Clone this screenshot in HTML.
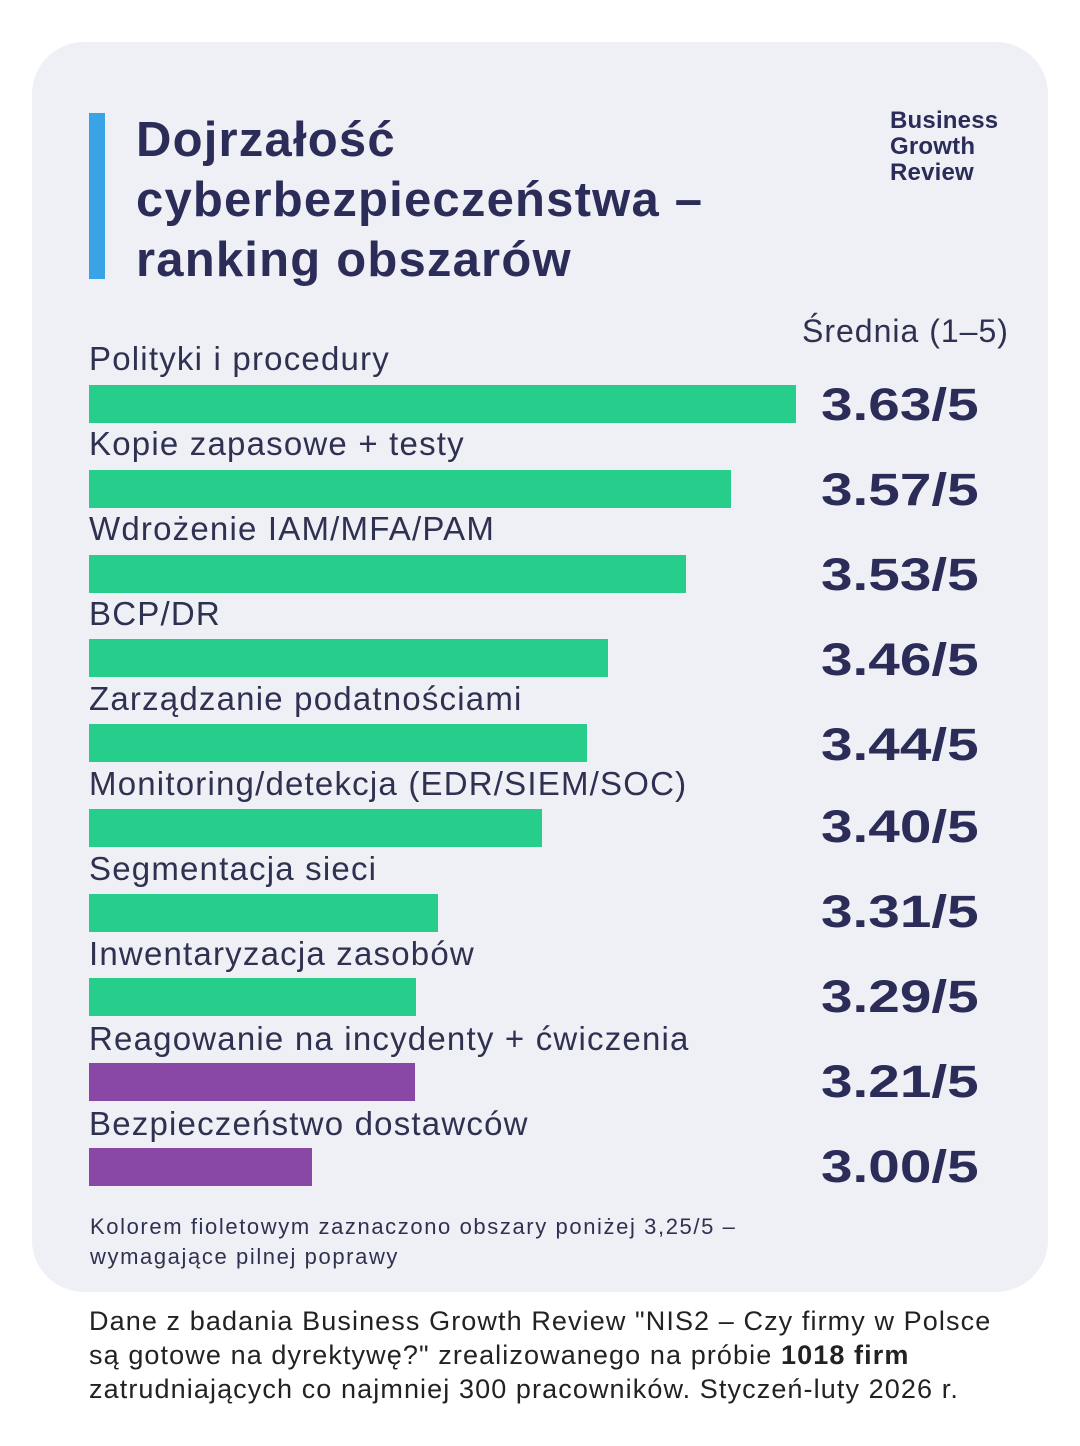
<!DOCTYPE html>
<html><head><meta charset="utf-8"><style>
*{margin:0;padding:0;box-sizing:border-box}
body{width:1080px;height:1446px;background:#fff;font-family:"Liberation Sans",sans-serif;position:relative;overflow:hidden;color:#2b2d58}
.card{position:absolute;left:32px;top:42px;width:1016px;height:1250px;background:#eff0f6;border-radius:52px}
.ab{position:absolute;white-space:nowrap}
.vb{position:absolute;left:89px;top:113px;width:16px;height:166px;background:#3aa3e6}
.title{left:136px;top:110px;font-size:49px;font-weight:bold;line-height:60px;color:#2b2d58;letter-spacing:1.2px}
.logo{left:890px;top:108px;font-size:24px;font-weight:bold;line-height:26px;color:#2b2d58;letter-spacing:0.2px}
.lab{position:absolute;left:89px;font-size:33px;color:#2f3150;white-space:nowrap;letter-spacing:1.2px}
.bar{position:absolute;left:89px;height:38px}
.val{position:absolute;left:821px;font-size:45px;font-weight:bold;color:#2b2d58;transform:scaleX(1.26);transform-origin:0 0;white-space:nowrap}
.g{background:#27cd8a}.p{background:#8a48a6}
</style></head><body>
<div class="card"></div>
<div class="vb"></div>
<div class="ab title">Dojrzałość<br>cyberbezpieczeństwa –<br>ranking obszarów</div>
<div class="ab logo">Business<br>Growth<br>Review</div>
<div class="ab" style="left:802px;top:313px;font-size:32px;color:#2f3150;letter-spacing:1px">Średnia (1–5)</div>

<div class="lab" style="top:340px">Polityki i procedury</div>
<div class="bar g" style="top:385px;width:707px"></div>
<div class="val" style="top:379px">3.63/5</div>

<div class="lab" style="top:425px">Kopie zapasowe + testy</div>
<div class="bar g" style="top:470px;width:642px"></div>
<div class="val" style="top:464px">3.57/5</div>

<div class="lab" style="top:510px">Wdrożenie IAM/MFA/PAM</div>
<div class="bar g" style="top:555px;width:597px"></div>
<div class="val" style="top:549px">3.53/5</div>

<div class="lab" style="top:595px">BCP/DR</div>
<div class="bar g" style="top:639px;width:519px"></div>
<div class="val" style="top:634px">3.46/5</div>

<div class="lab" style="top:680px">Zarządzanie podatnościami</div>
<div class="bar g" style="top:724px;width:498px"></div>
<div class="val" style="top:719px">3.44/5</div>

<div class="lab" style="top:765px">Monitoring/detekcja (EDR/SIEM/SOC)</div>
<div class="bar g" style="top:809px;width:453px"></div>
<div class="val" style="top:801px">3.40/5</div>

<div class="lab" style="top:850px">Segmentacja sieci</div>
<div class="bar g" style="top:894px;width:349px"></div>
<div class="val" style="top:886px">3.31/5</div>

<div class="lab" style="top:935px">Inwentaryzacja zasobów</div>
<div class="bar g" style="top:978px;width:327px"></div>
<div class="val" style="top:971px">3.29/5</div>

<div class="lab" style="top:1020px">Reagowanie na incydenty + ćwiczenia</div>
<div class="bar p" style="top:1063px;width:326px"></div>
<div class="val" style="top:1056px">3.21/5</div>

<div class="lab" style="top:1105px">Bezpieczeństwo dostawców</div>
<div class="bar p" style="top:1148px;width:223px"></div>
<div class="val" style="top:1141px">3.00/5</div>

<div class="ab" style="left:90px;top:1212px;font-size:22px;line-height:30px;color:#2f3150;letter-spacing:1.6px">Kolorem fioletowym zaznaczono obszary poniżej 3,25/5 –<br>wymagające pilnej poprawy</div>
<div class="ab" style="left:89px;top:1304px;font-size:27px;line-height:34px;color:#222;letter-spacing:1.1px">Dane z badania Business Growth Review "NIS2 – Czy firmy w Polsce<br>są gotowe na dyrektywę?" zrealizowanego na próbie <b>1018 firm</b><br>zatrudniających co najmniej 300 pracowników. Styczeń-luty 2026 r.</div>
</body></html>
